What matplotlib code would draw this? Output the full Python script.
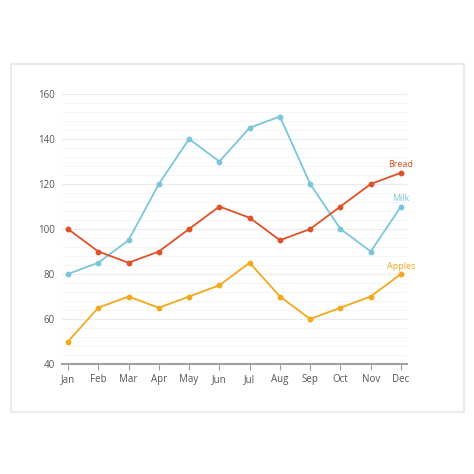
import matplotlib.pyplot as plt
import numpy as np
from matplotlib.patches import Rectangle

months = ['Jan', 'Feb', 'Mar', 'Apr', 'May', 'Jun', 'Jul', 'Aug', 'Sep', 'Oct', 'Nov', 'Dec']
milk = [80, 85, 95, 120, 140, 130, 145, 150, 120, 100, 90, 110]
bread = [100, 90, 85, 90, 100, 110, 105, 95, 100, 110, 120, 125]
apples = [50, 65, 70, 65, 70, 75, 85, 70, 60, 65, 70, 80]

series = [('Milk', milk, '#7cc6dc'), ('Bread', bread, '#df5128'), ('Apples', apples, '#f2a91e')]

plt.rcParams['font.family'] = ['Open Sans', 'DejaVu Sans']

fig = plt.figure(figsize=(4.74, 4.74), dpi=100)
fig.patch.set_facecolor('white')

# card background with soft border
card = Rectangle((11 / 474, 1 - 412 / 474), 453 / 474, 348 / 474,
                 transform=fig.transFigure, facecolor='white',
                 edgecolor='#ebebeb', linewidth=1.5, zorder=-5)
fig.patches.append(card)

ax = fig.add_axes([62 / 474, 1 - 364 / 474, 345 / 474, 270 / 474])
ax.set_zorder(2)
ax.set_facecolor('none')

x = np.arange(len(months))
for name, vals, col in series:
    ax.plot(x, vals, color=col, lw=1.3, marker='o', ms=3.2, zorder=3, clip_on=False)
    ax.annotate(name, (x[-1], vals[-1]), xytext=(0, 2.5), textcoords='offset points',
                ha='center', va='bottom', color=col, fontsize=6.5)

ax.set_xlim(-0.198, 11.198)
ax.set_ylim(40, 160)
ax.set_xticks(x)
ax.set_xticklabels(months)
ax.set_yticks(np.arange(40, 161, 20))
ax.set_yticks(np.arange(40, 161, 4), minor=True)

ax.grid(axis='y', which='major', color='#ececec', lw=0.8)
ax.grid(axis='y', which='minor', color='#f5f5f5', lw=0.7)
ax.set_axisbelow(True)

for s in ['top', 'right', 'left']:
    ax.spines[s].set_visible(False)
ax.spines['bottom'].set_color('#a0a0a0')
ax.spines['bottom'].set_linewidth(1.5)

ax.tick_params(axis='x', colors='#a0a0a0', labelcolor='#555555', labelsize=7, length=4, width=0.8, pad=3)
ax.tick_params(axis='y', which='both', length=0, labelcolor='#555555', labelsize=7, pad=5)

fig.savefig('out.png', dpi=100)
